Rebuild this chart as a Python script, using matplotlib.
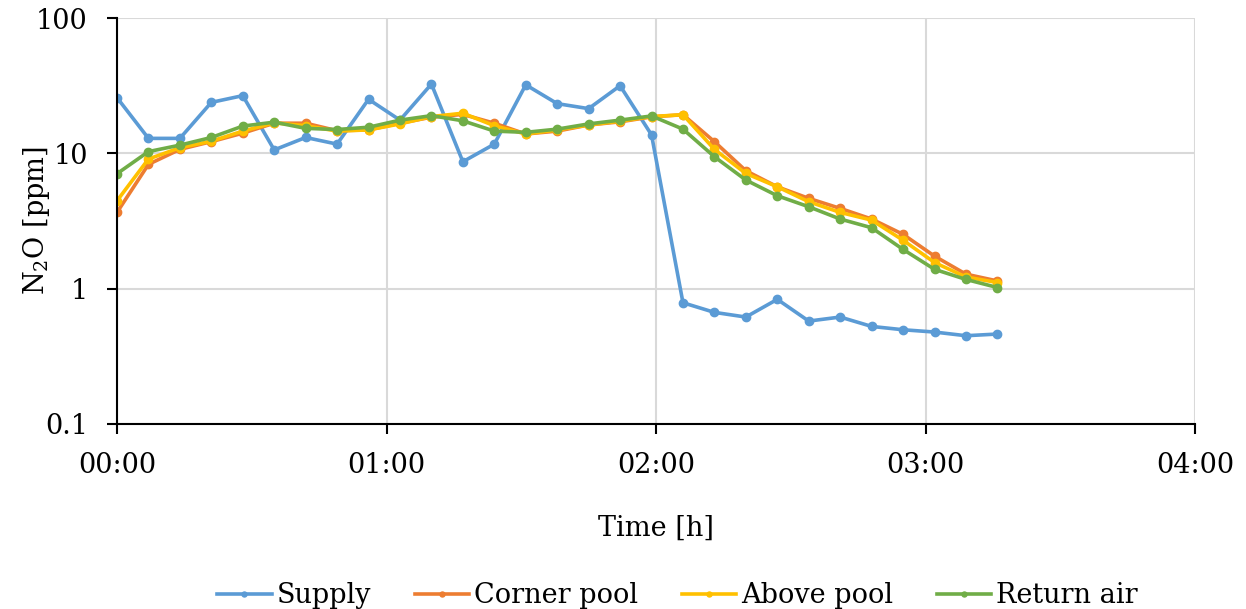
import matplotlib
matplotlib.use('Agg')
import matplotlib.pyplot as plt
from matplotlib.ticker import FuncFormatter, FixedLocator, NullLocator

plt.rcParams['font.family'] = ['DejaVu Serif']
plt.rcParams['mathtext.fontset'] = 'dejavuserif'

# sample times in minutes from start
time_min = [0, 7, 14, 21, 28, 35, 42, 49, 56, 63, 70, 77, 84, 91, 98,
            105, 112, 119, 126, 133, 140, 147, 154, 161, 168, 175, 182, 189, 196]

supply = [25.8, 12.9, 12.9, 23.8, 26.7, 10.6, 13.1, 11.7, 25.1, 17.6,
          32.5, 8.67, 11.7, 32.1, 23.3, 21.4, 31.6, 13.7, 0.787, 0.668,
          0.617, 0.834, 0.576, 0.617, 0.526, 0.497, 0.478, 0.449, 0.462]
corner_pool = [3.66, 8.29, 10.7, 12.2, 14.1, 16.7, 16.7, 14.7, 14.9, 16.7,
               18.5, 19.4, 16.7, 13.9, 14.6, 16.2, 17.1, 18.6, 19.3, 12.2,
               7.44, 5.66, 4.65, 3.92, 3.27, 2.52, 1.74, 1.28, 1.14]
above_pool = [4.46, 9.08, 11.0, 12.3, 14.6, 16.8, 16.0, 14.6, 14.9, 16.5,
              18.7, 19.8, 16.0, 13.9, 14.9, 16.2, 17.3, 18.7, 19.3, 10.7,
              7.1, 5.66, 4.39, 3.66, 3.21, 2.28, 1.56, 1.22, 1.11]
return_air = [7.07, 10.3, 11.5, 13.1, 15.9, 17.0, 15.3, 15.0, 15.6, 17.6,
              19.0, 17.4, 14.6, 14.3, 15.1, 16.5, 17.6, 18.9, 15.1, 9.44,
              6.35, 4.86, 4.03, 3.27, 2.82, 1.95, 1.39, 1.17, 1.02]

series = [('Supply', supply, '#5B9BD5'),
          ('Corner pool', corner_pool, '#ED7D31'),
          ('Above pool', above_pool, '#FFC000'),
          ('Return air', return_air, '#70AD47')]

hours = [m / 60 for m in time_min]

fig = plt.figure(figsize=(12.46, 6.09), dpi=100)
ax = fig.add_axes([0.0939, 0.3038, 0.8652, 0.6666])

for name, vals, col in series:
    ax.plot(hours, vals, color=col, lw=2.6, marker='o', ms=6, label=name)

ax.set_yscale('log')
ax.set_ylim(0.1, 100)
ax.set_xlim(0, 4)
ax.yaxis.set_major_locator(FixedLocator([0.1, 1, 10, 100]))
ax.yaxis.set_minor_locator(NullLocator())
ax.yaxis.set_major_formatter(FuncFormatter(lambda v, p: '%g' % v))
ax.xaxis.set_major_locator(FixedLocator([0, 1, 2, 3, 4]))
ax.xaxis.set_major_formatter(FuncFormatter(lambda v, p: '%02d:00' % int(round(v))))

ax.grid(True, color='#D9D9D9', lw=1.5)
ax.set_axisbelow(True)
for s in ['top', 'right']:
    ax.spines[s].set_visible(False)
for s in ['left', 'bottom']:
    ax.spines[s].set_linewidth(1.5)
ax.tick_params(direction='out', length=7, width=1.5, labelsize=19.5)
ax.tick_params(axis='y', pad=14)
ax.tick_params(axis='x', pad=13)

ax.set_xlabel('Time [h]', fontsize=19.5, labelpad=26)
ax.set_ylabel('N$_2$O [ppm]', fontsize=19.5)
ax.yaxis.set_label_coords(-0.06, 0.5)

ax.legend(loc='upper center', bbox_to_anchor=(0.52, -0.33), ncol=4, frameon=False,
          fontsize=19.5, handlelength=2.0, columnspacing=1.6, handletextpad=0.2,
          markerscale=0.6)

fig.savefig('out.png', dpi=100)
